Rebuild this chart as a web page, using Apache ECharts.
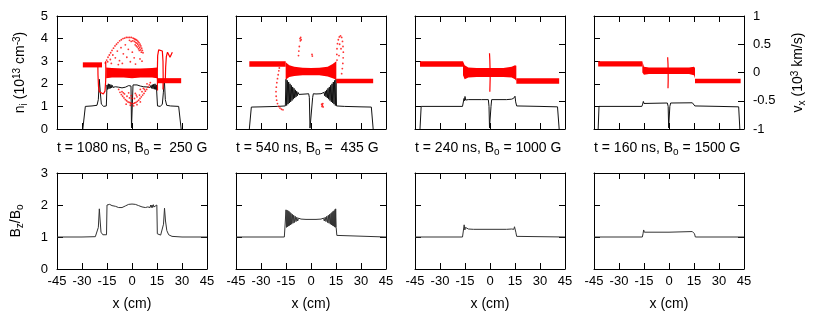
<!DOCTYPE html>
<html>
<head>
<meta charset="utf-8">
<script src="https://cdn.jsdelivr.net/npm/echarts/dist/echarts.min.js"></script>
<style>
html, body { margin: 0; padding: 0; background: #fff; }
#main { width: 817px; height: 321px; }
</style>
</head>
<body>
<div id="main"></div>
<script>
// panel labels
var timeLabels = ['1080', '540', '240', '160'];
var fieldLabels = [' 250', ' 435', '1000', '1500'];

// ion density n_i (10^13 cm^-3), [x cm, n]
var ni1080 = [[-29.5,0],[-28,1],[-24,1.02],[-21,1.05],[-20.2,1.3],[-19.6,2.2],[-19,1.6],[-18.4,1.1],[-17,1.0],[-15.4,1.02],[-15,1.95],[-14.6,1.75],[-14.2,2.0],[-13.8,1.78],[-13.4,1.98],[-13,1.8],[-12.6,1.96],[-12.2,1.82],[-11.8,1.93],[-11.4,1.84],[-11,1.9],[-10,1.87],[-8,1.85],[-6,1.82],[-4,1.85],[-2,1.92],[-1,1.98],[-0.6,1.9],[-0.3,0.05],[0.3,0.05],[0.6,1.95],[1,1.98],[3,1.95],[5,1.9],[7,1.87],[9,1.86],[10,1.88],[11,1.84],[11.4,1.93],[11.8,1.8],[12.2,1.96],[12.6,1.78],[13,1.98],[13.4,1.76],[13.8,2.0],[14.2,1.75],[14.6,1.95],[15,1.9],[15.3,1.02],[17,1.0],[18.2,1.1],[18.8,1.6],[19.4,2.2],[20,1.3],[20.8,1.05],[23,1.02],[28,1.0],[29.5,0]];
var ni540 = [[-37,0],[-35.8,0.97],[-30,0.98],[-20,1.0],[-15.4,1.02],[-15,2.2],[-14.6,1.04],[-14.2,2.15],[-13.8,1.1],[-13.4,2.08],[-13,1.15],[-12.6,2.0],[-12.2,1.2],[-11.8,1.93],[-11.4,1.26],[-11,1.86],[-10.6,1.32],[-10.2,1.8],[-9.8,1.37],[-9.4,1.73],[-9,1.42],[-8.6,1.67],[-8.2,1.47],[-7.8,1.62],[-7.2,1.53],[-6,1.56],[-3,1.55],[-1.4,1.56],[-1,1.4],[-0.6,0.04],[0.6,0.04],[1,1.4],[1.4,1.56],[3,1.55],[6,1.56],[7.2,1.53],[7.8,1.62],[8.2,1.47],[8.6,1.67],[9,1.42],[9.4,1.73],[9.8,1.37],[10.2,1.8],[10.6,1.32],[11,1.86],[11.4,1.26],[11.8,1.93],[12.2,1.2],[12.6,2.0],[13,1.15],[13.4,2.08],[13.8,1.1],[14.2,2.15],[14.6,1.04],[15,2.2],[15.3,1.02],[20,1.0],[30,0.98],[36.2,0.97],[37.3,0]];
var ni240 = [[-42,0],[-41.3,1.0],[-30,1.0],[-16.5,1.0],[-16,1.05],[-15.6,1.35],[-15.3,1.25],[-15,1.44],[-14.6,1.28],[-14.2,1.33],[-13.8,1.28],[-13,1.3],[-5,1.3],[-1,1.3],[-0.6,1.0],[-0.3,0.05],[0.3,0.05],[0.6,1.0],[1,1.3],[10,1.3],[13,1.32],[13.8,1.3],[14.2,1.36],[14.6,1.3],[15,1.45],[15.4,1.2],[16,1.02],[16.5,1.0],[30,1.0],[40.5,0.98],[41.5,0]];
var ni160 = [[-42.5,0],[-42,1.0],[-30,1.0],[-16.3,1.0],[-15.8,1.1],[-15.4,1.22],[-15,1.13],[-14,1.15],[-1,1.15],[-0.5,1.0],[-0.2,0.05],[0.2,0.05],[0.5,1.0],[1,1.15],[14,1.16],[14.6,1.22],[15,1.13],[15.5,1.02],[16,1.0],[30,1.0],[41.8,0.98],[42.5,0]];

// ion velocity v_x (10^3 km/s) bands, [x cm, low, high]
var vx1080Left = [[-29.5,0.09,0.18],[-18,0.09,0.18]];
var vx1080Mid = [[-15.5,-0.1,0.09],[-12,-0.09,0.08],[-5,-0.09,0.07],[0,-0.1,0.07],[5,-0.09,0.07],[12,-0.09,0.08],[15,-0.1,0.09]];
var vx1080Right = [[15.2,-0.19,-0.1],[29.5,-0.19,-0.1]];
var vx540Left = [[-37,0.1,0.2],[-15.2,0.1,0.2]];
var vx540Mid = [[-15.2,-0.13,0.18],[-13,-0.08,0.13],[-10,-0.06,0.1],[-5,-0.05,0.085],[0,-0.05,0.08],[5,-0.05,0.085],[10,-0.07,0.1],[13,-0.1,0.15],[15.2,-0.13,0.2]];
var vx540Right = [[15.2,-0.19,-0.11],[37.3,-0.19,-0.11]];
var vx240Left = [[-42,0.1,0.2],[-16.2,0.1,0.2]];
var vx240Mid = [[-16.2,-0.05,0.2],[-15.2,-0.12,0.13],[-13,-0.09,0.09],[-8,-0.08,0.08],[0,-0.08,0.08],[8,-0.08,0.08],[13,-0.09,0.1],[15,-0.12,0.13],[15.8,-0.15,0.12]];
var vx240Right = [[15.8,-0.2,-0.1],[41.5,-0.2,-0.1]];
var vx160Left = [[-42.5,0.105,0.2],[-16,0.105,0.2]];
var vx160Mid = [[-16,0.0,0.2],[-15,-0.04,0.1],[-12,-0.025,0.09],[0,-0.025,0.09],[12,-0.025,0.09],[15,-0.05,0.1],[15.6,-0.1,0.08]];
var vx160Right = [[15.6,-0.19,-0.11],[43,-0.19,-0.11]];

// thin v_x streaks, [x cm, v]
var vx1080Hair = [[-20.5,0.15],[-20.4,-0.05],[-20.1,-0.25],[-19.6,-0.34],[-18.6,-0.37],[-17.2,-0.38],[-16.2,-0.33],[-15.8,-0.15],[-15.7,0.05],[-15.8,0.2]];
var vx1080Loop = [[15.3,-0.32],[15.2,0],[15.4,0.3],[16,0.4],[17,0.43],[18.2,0.38],[18.6,0.2],[18.7,-0.05],[18.6,-0.3]];
var vx1080Hook = [[20,-0.12],[20.2,0.1],[20.6,0.28],[21.3,0.36],[22.2,0.34],[22.8,0.27],[23.4,0.3],[24.2,0.36]];
var vx240Spike = [[-0.3,0.34],[-0.1,0.22],[0,0.1],[0.1,-0.1],[0,-0.22],[-0.1,-0.34]];
var vx160Spike = [[-0.8,0.27],[-0.6,0.15],[-0.5,0],[-0.5,-0.15],[-0.6,-0.28]];

// scattered v_x particles, [x cm, v]
var vx1080Ring = [[-16,0.17],[-15.2,0.22],[-14.4,0.27],[-13.6,0.31],[-12.8,0.35],[-12,0.39],[-11.1,0.43],[-10.2,0.47],[-9.3,0.5],[-8.4,0.53],[-7.4,0.56],[-6.4,0.58],[-5.4,0.6],[-4.4,0.61],[-3.4,0.62],[-2.4,0.62],[-1.4,0.62],[-0.4,0.62],[0.6,0.61],
  [1.2,0.6],[1.8,0.59],[2.4,0.58],[3,0.57],[3.6,0.55],[4.2,0.53],[4.8,0.5],[5.3,0.47],[5.8,0.43],[6.2,0.39],[6.6,0.35],[1.5,0.55],[2.2,0.53],[2.9,0.52],[3.5,0.5],[4.1,0.47],[4.7,0.44],[5.2,0.4],[5.6,0.36],[0.5,0.56],[1.9,0.49],[3.2,0.45],[4.4,0.39],[2.6,0.47],[3.9,0.42],[-0.5,0.55],[-1.5,0.57],
  [-13,0.23],[-11.5,0.31],[-10,0.26],[-8.8,0.38],[-7.5,0.21],[-6.6,0.44],[-5.2,0.33],[-4,0.49],[-3.1,0.27],[-2.2,0.41],[-1,0.19],[0.2,0.36],[1.3,0.26],[2.1,0.15],[-8.2,0.14],[-12.4,0.16],[-5.8,0.16],[4.8,0.24],[6,0.2],[-14.6,0.19],
  [-8,-0.3],[-7.2,-0.35],[-6.4,-0.39],[-5.6,-0.42],[-4.8,-0.45],[-4,-0.48],[-3.2,-0.5],[-2.4,-0.52],[-1.6,-0.53],[-0.8,-0.54],[0,-0.55],[0.8,-0.55],[1.6,-0.54],[2.4,-0.53],[3.2,-0.51],[4,-0.49],[4.8,-0.46],[5.6,-0.43],[6.4,-0.4],[7.2,-0.37],[8,-0.33],[8.8,-0.3],[9.6,-0.26],[10.4,-0.22],[11,-0.18],
  [-6,-0.34],[-4.5,-0.38],[-3,-0.42],[-1.5,-0.45],[0,-0.46],[1.5,-0.46],[3,-0.43],[4.5,-0.4],[6,-0.34],[7.5,-0.3],[-2,-0.36],[2,-0.37],[5,-0.3],
  [-3.5,-0.56],[-1,-0.58],[1,-0.59],[3,-0.57],[5,-0.52],[-5.2,-0.36],[-0.4,-0.41],[2.6,-0.4],[6.8,-0.28],[9,-0.2]];
var vx540Dots = [[-19,0.08],[-19.3,0.03],[-19.7,-0.04],[-20.1,-0.11],[-20.5,-0.18],[-20.8,-0.26],[-21,-0.34],[-20.9,-0.42],[-20.6,-0.49],[-20.1,-0.55],[-19.4,-0.6],[-18.6,-0.63],[-17.7,-0.65],[-16.8,-0.66],
  [15.6,0.22],[15.5,0.32],[15.6,0.42],[15.9,0.51],[16.4,0.58],[17,0.63],[17.7,0.65],[18.4,0.62],[18.9,0.55],[19.2,0.46],[19.4,0.36],[19.3,0.26],[19.1,0.16],[18.8,0.07],[18.4,-0.02],[17.2,0.5],[18,0.42],[16.8,0.3],
  [-6.6,0.6],[-6.2,0.62],[-5.9,0.58],[-6.4,0.56],[-7,0.46],[-7.3,0.38],[-7.5,0.3],
  [6.4,-0.56],[6.8,-0.58],[7.1,-0.55],[6.6,-0.6],[7.3,-0.61],
  [0.6,0.32],[0.8,0.29]];

// magnetic field B_z/B_o, [x cm, ratio]
var bz1080 = [[-45,1],[-30,1],[-22,1.01],[-21,1.05],[-20.2,1.3],[-19.6,1.88],[-19.1,1.5],[-18.6,1.15],[-17.5,1.07],[-16.5,1.05],[-15.3,1.07],[-15,2.0],[-14.6,1.95],[-14.2,2.03],[-13.8,1.96],[-13.4,2.02],[-13,1.96],[-12.6,2.01],[-12,1.98],[-10,1.96],[-8,1.92],[-6,1.92],[-4,1.97],[-2,2.02],[0,2.03],[2,2.02],[4,1.98],[6,1.94],[8,1.92],[9.5,1.94],[10.4,1.99],[10.8,1.92],[11.2,2.0],[11.6,1.92],[12,2.0],[12.4,1.92],[12.8,2.01],[13.2,1.94],[13.6,1.99],[14.4,1.96],[14.9,2.0],[15.2,1.1],[16,1.05],[17.2,1.06],[18.2,1.12],[18.9,1.4],[19.5,1.9],[20.1,1.5],[20.9,1.2],[22,1.07],[24,1.02],[30,1.0],[45,1.0]];
var bz540 = [[-45,1],[-16,1.0],[-15.4,1.02],[-15,1.85],[-14.7,1.3],[-14.4,1.84],[-14.1,1.32],[-13.8,1.82],[-13.5,1.34],[-13.2,1.8],[-12.9,1.36],[-12.6,1.77],[-12.3,1.38],[-12,1.74],[-11.6,1.4],[-11.2,1.71],[-10.8,1.43],[-10.4,1.68],[-10,1.45],[-9.5,1.65],[-9,1.48],[-8.5,1.62],[-8,1.5],[-7.5,1.59],[-7,1.53],[-6,1.56],[-3,1.55],[0,1.55],[3,1.55],[6,1.56],[7,1.53],[7.5,1.59],[8,1.5],[8.5,1.62],[9,1.48],[9.5,1.65],[10,1.45],[10.4,1.68],[10.8,1.43],[11.2,1.71],[11.6,1.4],[12,1.74],[12.3,1.38],[12.6,1.77],[12.9,1.36],[13.2,1.8],[13.5,1.34],[13.8,1.82],[14.1,1.32],[14.4,1.86],[14.6,1.3],[14.8,1.88],[15.1,1.3],[15.5,1.05],[16,1.0],[45,1.0]];
var bz240 = [[-45,1],[-16.5,1.0],[-16,1.05],[-15.5,1.38],[-15.1,1.22],[-14.7,1.3],[-14.3,1.24],[-13.8,1.27],[-13,1.25],[-10,1.24],[0,1.24],[10,1.24],[13,1.25],[13.8,1.27],[14.3,1.24],[14.7,1.32],[15.1,1.38],[15.5,1.15],[16,1.02],[17,1.0],[45,1.0]];
var bz160 = [[-45,1],[-16,1.0],[-15.6,1.1],[-15.2,1.22],[-14.8,1.15],[-14,1.16],[0,1.15],[14,1.17],[14.6,1.2],[15,1.22],[15.3,1.1],[15.8,1.0],[45,1.0]];

var niData = [ni1080, ni540, ni240, ni160];
var bzData = [bz1080, bz540, bz240, bz160];
var vxBands = [[vx1080Left, vx1080Mid, vx1080Right], [vx540Left, vx540Mid, vx540Right], [vx240Left, vx240Mid, vx240Right], [vx160Left, vx160Mid, vx160Right]];
var vxLines = [[vx1080Hair, vx1080Loop, vx1080Hook], [], [vx240Spike], [vx160Spike]];
var vxDots = [vx1080Ring, vx540Dots, [], []];

var font = "'Liberation Sans', Arial, Helvetica, sans-serif";
var gridLeft = [57, 236, 415, 594];
var rich = {
	sub: {fontSize: 10, fontFamily: font, color: '#000', padding: [7, 0, 0, 0]},
	sup: {fontSize: 10, fontFamily: font, color: '#000', padding: [0, 0, 7, 0]}
};

function makeAxis(gi, pos, min, max, step, labels, name, gap) {
	var vertical = pos == 'left' || pos == 'right';
	return {
		gridIndex: gi, type: 'value', position: pos, min: min, max: max, interval: step,
		axisLine: {show: true, onZero: false, lineStyle: {color: '#000', width: 1}},
		axisTick: {show: true, inside: true, length: 6, lineStyle: {color: '#000', width: 1}},
		axisLabel: {show: labels, margin: vertical ? 9 : 6, color: '#000', fontSize: 13, fontFamily: font,
			showMinLabel: true, showMaxLabel: true, hideOverlap: false},
		splitLine: {show: false},
		name: name || '', nameLocation: 'middle', nameGap: gap || 0, nameRotate: vertical ? 90 : 0,
		nameTextStyle: {color: '#000', fontSize: 14, fontFamily: font, rich: rich}
	};
}

function lineSeries(data, gi, yIdx, color, width, z) {
	return {type: 'line', xAxisIndex: 2 * gi, yAxisIndex: yIdx, data: data, symbol: 'none',
		lineStyle: {color: color, width: width}, z: z, silent: true, animation: false};
}

function bandSeries(band, gi) {
	return {
		type: 'custom', xAxisIndex: 2 * gi, yAxisIndex: 2 * gi + 1, silent: true, z: 3, animation: false,
		data: [[band[0][0], band[0][1]]],
		renderItem: function(params, api) {
			var pts = [];
			band.forEach(function(p) { pts.push(api.coord([p[0], p[2]])); });
			band.slice().reverse().forEach(function(p) { pts.push(api.coord([p[0], p[1]])); });
			return {type: 'polygon', shape: {points: pts}, style: {fill: '#ff0000'}};
		}
	};
}

var grids = [], xAxes = [], yAxes = [], series = [], titles = [];
for (var i = 0; i < 8; i++) {
	var upper = i < 4, col = i % 4;
	grids.push({left: gridLeft[col], top: upper ? 16 : 173, width: 150, height: upper ? 113 : 96, outerBoundsMode: 'none'});
	xAxes.push(makeAxis(i, 'bottom', -45, 45, 15, !upper, upper ? '' : 'x (cm)', 28));
	xAxes.push(makeAxis(i, 'top', -45, 45, 15, false));
	if (upper) {
		yAxes.push(makeAxis(i, 'left', 0, 5, 1, col == 0, col == 0 ? 'n{sub|i} (10{sup|13} cm{sup|-3})' : '', 28));
		yAxes.push(makeAxis(i, 'right', -1, 1, 0.5, col == 3, col == 3 ? 'v{sub|x} (10{sup|3} km/s)' : '', 46));
		series.push(lineSeries(niData[col], i, 2 * i, '#111', 1, 2));
		vxBands[col].forEach(function(b) { series.push(bandSeries(b, i)); });
		vxLines[col].forEach(function(l) { series.push(lineSeries(l, i, 2 * i + 1, '#ff0000', 1.2, 4)); });
		if (vxDots[col].length) {
			series.push({type: 'scatter', xAxisIndex: 2 * i, yAxisIndex: 2 * i + 1, data: vxDots[col],
				symbolSize: 1.8, itemStyle: {color: '#ff0000'}, z: 4, silent: true, animation: false});
		}
		titles.push({
			text: 't = ' + timeLabels[col] + ' ns, B{sub|o} = ' + fieldLabels[col] + ' G',
			left: gridLeft[col], top: 140, padding: 0,
			textStyle: {fontSize: 14, fontWeight: 'normal', color: '#000', fontFamily: font, rich: rich}
		});
	} else {
		yAxes.push(makeAxis(i, 'left', 0, 3, 1, col == 0, col == 0 ? 'B{sub|z}/B{sub|o}' : '', 32));
		yAxes.push(makeAxis(i, 'right', 0, 3, 1, false));
		series.push(lineSeries(bzData[col], i, 2 * i, '#333', 1, 2));
	}
}

var myChart = echarts.init(document.getElementById('main'));
var option = {
	animation: false,
	backgroundColor: '#fff',
	title: titles,
	grid: grids,
	xAxis: xAxes,
	yAxis: yAxes,
	series: series
};
myChart.setOption(option);
</script>
</body>
</html>
